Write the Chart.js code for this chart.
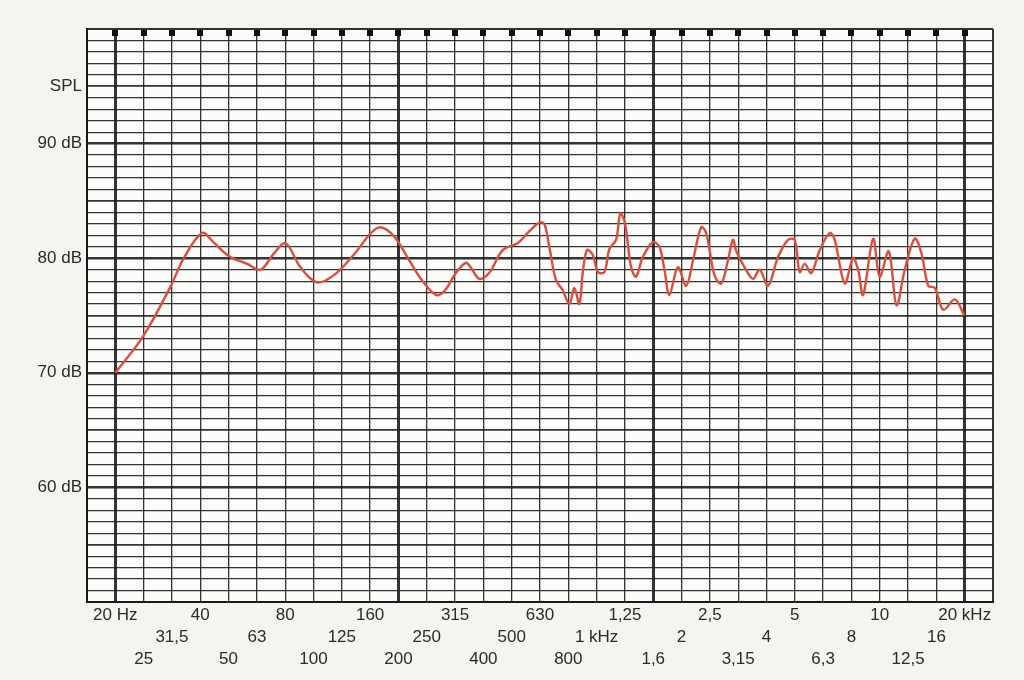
<!DOCTYPE html>
<html>
<head>
<meta charset="utf-8">
<script src="https://cdn.jsdelivr.net/npm/chart.js@4"></script>
<style>
  html, body { margin: 0; padding: 0; background: #f4f4f1; }
  #wrap { width: 1024px; height: 680px; }
</style>
</head>
<body>
<div id="wrap"><canvas id="spl-Chart"></canvas></div>
<script>
const freqs = [20, 25.1, 31.3, 34.9, 40.5, 44.4, 50.3, 58.5, 65.2, 72.6, 79.9, 90.2, 103, 118, 139, 160, 173, 193, 215, 240,
  271, 290, 319, 346, 360, 386, 418, 467, 527, 572, 629, 655, 682, 720, 761, 803, 836, 871, 895, 927,
  971, 1012, 1068, 1112, 1174, 1216, 1263, 1327, 1382, 1459, 1583, 1670, 1740, 1812, 1941, 2077, 2208, 2346, 2444, 2615,
  2762, 2916, 3038, 3122, 3340, 3577, 3774, 4041, 4382, 4753, 5017, 5226, 5444, 5747, 6149, 6673, 6950, 7540, 8070, 8405,
  8755, 9499, 10024, 10787, 11486, 12289, 13330, 14080, 14871, 15690, 16802, 18472, 19936];
const splValues = [70.0, 73.2, 77.5, 80.0, 82.2, 81.4, 80.2, 79.5, 79.0, 80.4, 81.3, 79.2, 77.9, 78.5, 80.3, 82.2, 82.7, 81.9, 80.1, 78.2,
  76.8, 77.1, 78.7, 79.6, 79.2, 78.2, 78.7, 80.7, 81.3, 82.2, 83.1, 83.0, 81.0, 78.1, 77.2, 76.0, 77.4, 76.0, 78.7, 80.7,
  80.3, 78.8, 78.8, 80.8, 81.6, 83.9, 83.0, 79.2, 78.4, 80.1, 81.4, 81.0, 79.0, 76.8, 79.2, 77.6, 80.1, 82.7, 82.2, 78.5,
  77.8, 79.8, 81.6, 80.6, 79.2, 78.2, 79.0, 77.6, 80.1, 81.6, 81.6, 78.8, 79.5, 78.7, 80.7, 82.2, 81.6, 77.8, 80.0, 79.0,
  76.8, 81.7, 78.4, 80.6, 75.9, 79.0, 81.7, 80.4, 77.6, 77.4, 75.5, 76.4, 75.0];

// third-octave band labels, 20 Hz .. 20 kHz
const bandLabels = ["20 Hz", "25", "31,5", "40", "50", "63", "80", "100", "125", "160", "200", "250", "315", "400", "500",
  "630", "800", "1 kHz", "1,25", "1,6", "2", "2,5", "3,15", "4", "5", "6,3", "8", "10", "12,5", "16", "20 kHz"];
const thickBands = [0, 10, 19, 30];
const dbLabels = { 60: "60 dB", 70: "70 dB", 80: "80 dB", 90: "90 dB", 95: "SPL" };

// band k sits at 20 Hz * 10^(k/10); one extra band each side forms the frame
const bandFreq = (k) => 20 * Math.pow(10, k / 10);
const gridInk = "rgba(30,30,30,0.9)";
const labelFont = "'Liberation Sans', Arial, sans-serif";

const paperPlugin = {
  id: "paper",
  beforeDraw(chart) {
    const { ctx, chartArea: a } = chart;
    ctx.save();
    ctx.fillStyle = "#f4f4f1";
    ctx.fillRect(0, 0, chart.width, chart.height);
    ctx.fillStyle = "#fcfcfb";
    ctx.fillRect(a.left, a.top, a.right - a.left, a.bottom - a.top);
    ctx.restore();
  },
  afterDraw(chart) {
    // little black squares on top of every band line
    const { ctx, chartArea: a, scales } = chart;
    ctx.save();
    ctx.fillStyle = "#111";
    for (let k = 0; k < bandLabels.length; k++) {
      const x = scales.x.getPixelForValue(bandFreq(k));
      ctx.fillRect(Math.round(x) - 3, a.top + 1, 6, 6);
    }
    ctx.restore();
  },
};

const ctx = document.getElementById("spl-Chart");
const chart = new Chart(ctx, {
  type: "line",
  data: {
    datasets: [
      {
        label: "SPL",
        data: freqs.map((f, i) => ({ x: f, y: splValues[i] })),
        borderColor: "#d94f3d",
        borderWidth: 2.4,
        pointRadius: 0,
        tension: 0.35,
      },
    ],
  },
  options: {
    responsive: true,
    maintainAspectRatio: false,
    animation: false,
    layout: { padding: { left: 0, right: 31, top: 29, bottom: 0 } },
    plugins: { legend: { display: false }, tooltip: { enabled: false } },
    scales: {
      x: {
        type: "logarithmic",
        min: bandFreq(-1),
        max: bandFreq(31),
        afterBuildTicks: (scale) => {
          const t = [];
          for (let k = -1; k <= 31; k++) t.push({ value: bandFreq(k) });
          scale.ticks = t;
        },
        afterFit: (scale) => { scale.height = 78; },
        border: { color: "#1a1a1a", width: 2 },
        grid: {
          drawTicks: false,
          color: gridInk,
          lineWidth: (c) => {
            const k = c.index - 1;
            if (thickBands.includes(k)) return 3;
            if (k < 0 || k > 30) return 2;
            return 1.3;
          },
        },
        ticks: {
          autoSkip: false,
          maxRotation: 0,
          minRotation: 0,
          padding: 2,
          color: "#2b2b2b",
          font: { family: labelFont, size: 17, lineHeight: "22px" },
          callback: (v, i) => {
            const k = i - 1;
            if (k < 0 || k > 30) return "";
            const row = [0, 2, 1][k % 3];
            const lines = ["", "", ""].slice(0, row);
            lines.push(bandLabels[k]);
            return lines;
          },
        },
      },
      y: {
        min: 50,
        max: 100,
        afterFit: (scale) => { scale.width = 87; },
        border: { color: "#1a1a1a", width: 2 },
        grid: {
          drawTicks: false,
          color: gridInk,
          lineWidth: (c) => {
            const v = c.tick.value;
            if (v === 100 || v === 50) return 2;
            if (v % 10 === 0) return 2.6;
            if (v % 5 === 0) return 1.8;
            return 1.2;
          },
        },
        ticks: {
          stepSize: 1,
          autoSkip: false,
          padding: 5,
          color: "#2b2b2b",
          font: { family: labelFont, size: 17 },
          callback: (v) => dbLabels[v] || "",
        },
      },
    },
  },
  plugins: [paperPlugin],
});
</script>
</body>
</html>
